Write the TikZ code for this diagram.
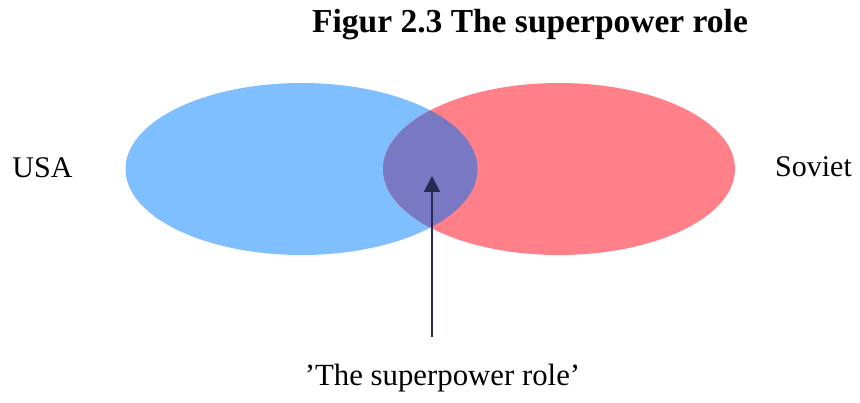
\documentclass[tikz,border=0pt]{standalone}
\usepackage{fontspec}
\setmainfont{Liberation Serif}
\usetikzlibrary{shapes.geometric,arrows.meta}
\definecolor{usablue}{RGB}{128,191,255}
\definecolor{sovred}{RGB}{255,128,136}
\definecolor{overlap}{RGB}{120,121,194}
\definecolor{arrowc}{RGB}{40,42,80}
\tikzset{
  lbl/.style={inner sep=0pt, anchor=base, font=\fontsize{30}{34}\selectfont},
  ttl/.style={inner sep=0pt, anchor=base, font=\fontsize{33.5}{38}\selectfont\bfseries},
  pointer/.style={draw=arrowc, line width=2pt, -{Triangle[length=16pt,width=16pt]}}
}
\begin{document}
\begin{tikzpicture}[x=1pt,y=-1pt]
\useasboundingbox (0,0) rectangle (860,403);
\fill[usablue] (301.5,169) ellipse [x radius=176, y radius=86];
\fill[sovred] (559,169) ellipse [x radius=176, y radius=86];
\begin{scope}
  \clip (301.5,169) ellipse [x radius=176, y radius=86];
  \fill[overlap] (559,169) ellipse [x radius=176, y radius=86];
\end{scope}
\node[ttl] (title) at (530,33) {Figur 2.3 The superpower role};
\node[lbl] (usa) at (42.5,178) {USA};
\node[lbl] (soviet) at (813.5,177) {Soviet};
\node[lbl, font=\fontsize{30.8}{35}\selectfont] (role) at (442.5,386) {’The superpower role’};
\coordinate (tail) at (432,337);
\coordinate (tip) at (432,176);
\draw[pointer] (tail) -- (tip);
\end{tikzpicture}
\end{document}
